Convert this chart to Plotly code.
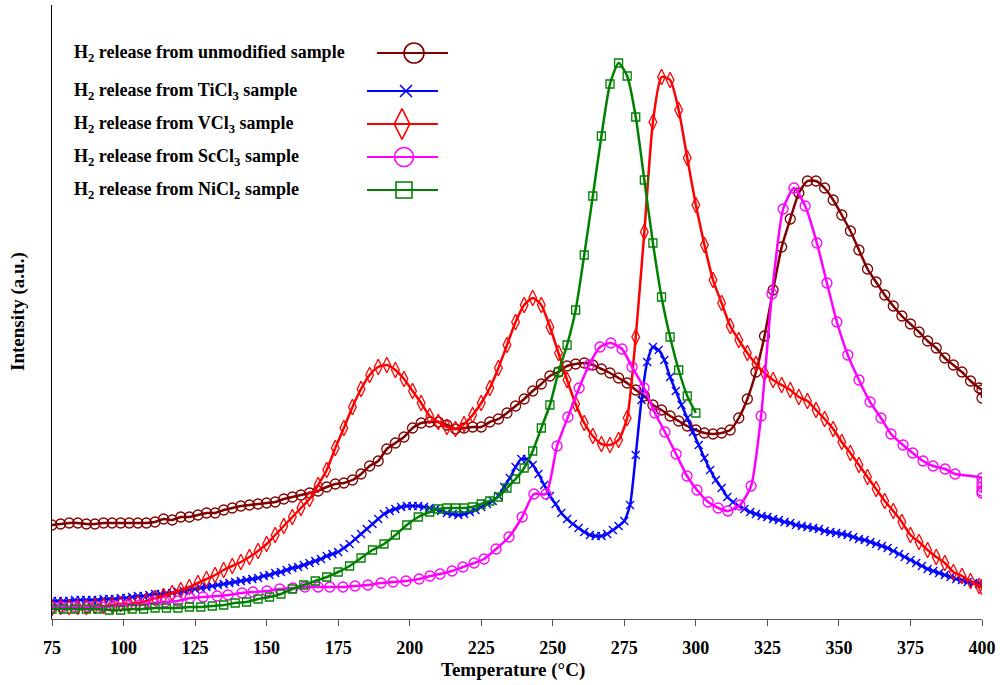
import plotly.graph_objects as go

# ---------------- data ----------------
tick_vals = [75, 100, 125, 150, 175, 200, 225, 250, 275, 300, 325, 350, 375, 400]

unmod_T = [75, 78, 81, 84, 87, 90, 93, 96, 99, 102,
           105, 108, 111, 114, 117, 120, 123, 126, 129, 132,
           135, 138, 141, 144, 147, 150, 153, 156, 159, 162,
           165, 168, 171, 174, 177, 180, 183, 186, 189, 192,
           195, 198, 201, 204, 207, 210, 213, 216, 219, 222,
           225, 228, 231, 234, 237, 240, 243, 246, 249, 252,
           255, 258, 261, 264, 267, 270, 273, 276, 279, 282,
           285, 288, 291, 294, 297, 300, 303, 306, 309, 312,
           315, 318, 321, 324, 327, 330, 333, 336, 339, 342,
           345, 348, 351, 354, 357, 360, 363, 366, 369, 372,
           375, 378, 381, 384, 387, 390, 393, 396, 399, 400, 400]
unmod_I = [94, 95, 96, 96, 95, 95, 96, 96, 96, 96,
           96, 96, 97, 100, 99, 102, 102, 104, 106, 106,
           109, 111, 113, 114, 115, 116, 117, 120, 122, 124,
           126, 128, 132, 135, 136, 139, 145, 153, 158, 170,
           176, 182, 191, 196, 197, 197, 194, 190, 191, 192,
           192, 197, 200, 206, 213, 220, 228, 235, 243, 247,
           253, 255, 256, 254, 250, 246, 241, 236, 229, 223,
           214, 209, 203, 198, 193, 189, 186, 185, 186, 189,
           201, 220, 247, 283, 329, 372, 400, 426, 438, 438,
           431, 419, 404, 388, 369, 350, 337, 324, 313, 303,
           295, 287, 278, 271, 261, 254, 247, 238, 231, 229, 221]

ti_T = [75, 77, 79, 81, 83, 85, 87, 89, 91, 93,
        95, 97, 99, 101, 103, 105, 107, 109, 111, 113,
        115, 117, 119, 121, 123, 125, 127, 129, 131, 133,
        135, 137, 139, 141, 143, 145, 147, 149, 151, 153,
        155, 157, 159, 161, 163, 165, 167, 169, 171, 173,
        175, 177, 179, 181, 183, 185, 187, 189, 191, 193,
        195, 197, 199, 201, 203, 205, 207, 209, 211, 213,
        215, 217, 219, 221, 223, 225, 227, 229, 231, 233,
        235, 237, 239, 241, 243, 245, 247, 249, 251, 253,
        255, 257, 259, 261, 263, 265, 267, 269, 271, 273,
        275, 277, 279, 281, 283, 285, 287, 289, 291, 293,
        295, 297, 299, 301, 303, 305, 307, 309, 311, 313,
        315, 317, 319, 321, 323, 325, 327, 329, 331, 333,
        335, 337, 339, 341, 343, 345, 347, 349, 351, 353,
        355, 357, 359, 361, 363, 365, 367, 369, 371, 373,
        375, 377, 379, 381, 383, 385, 387, 389, 391, 393,
        395, 397, 399, 400]
ti_I = [18, 18, 18, 18, 19, 19, 19, 19, 19, 20,
        20, 20, 21, 21, 22, 23, 23, 24, 25, 25,
        26, 26, 27, 28, 29, 30, 31, 32, 33, 34,
        35, 36, 37, 38, 39, 40, 41, 43, 44, 46,
        47, 49, 51, 52, 54, 56, 58, 60, 63, 65,
        67, 71, 75, 80, 85, 90, 95, 100, 105, 108,
        110, 112, 113, 113, 113, 112, 111, 110, 108, 106,
        105, 104, 105, 107, 109, 112, 115, 118, 123, 132,
        141, 152, 160, 160, 154, 145, 134, 123, 115, 106,
        100, 95, 91, 87, 84, 83, 83, 85, 89, 93,
        98, 114, 164, 219, 257, 272, 269, 259, 242, 228,
        214, 201, 187, 174, 161, 149, 139, 131, 122, 117,
        113, 110, 107, 105, 103, 102, 100, 99, 97, 96,
        94, 93, 92, 91, 90, 88, 87, 86, 85, 84,
        82, 80, 79, 77, 75, 73, 71, 68, 65, 62,
        59, 56, 53, 50, 48, 46, 44, 42, 40, 39,
        37, 36, 35, 34]

v_T = [75, 78, 81, 84, 87, 90, 93, 96, 99, 102,
       105, 108, 111, 114, 117, 120, 123, 126, 129, 132,
       135, 138, 141, 144, 147, 150, 153, 156, 159, 162,
       165, 168, 171, 174, 177, 180, 183, 186, 189, 192,
       195, 198, 201, 204, 207, 210, 213, 216, 219, 222,
       225, 228, 231, 234, 237, 240, 243, 246, 249, 252,
       255, 258, 261, 264, 267, 270, 273, 276, 279, 282,
       285, 288, 291, 294, 297, 300, 303, 306, 309, 312,
       315, 318, 321, 324, 327, 330, 333, 336, 339, 342,
       345, 348, 351, 354, 357, 360, 363, 366, 369, 372,
       375, 378, 381, 384, 387, 390, 393, 396, 399, 400]
v_I = [11, 12, 12, 12, 12, 13, 13, 14, 15, 15,
       16, 18, 21, 23, 26, 29, 32, 36, 40, 44,
       49, 53, 57, 62, 68, 75, 84, 93, 102, 111,
       120, 134, 149, 171, 191, 212, 230, 244, 252, 254,
       249, 240, 228, 216, 203, 197, 192, 190, 195, 204,
       216, 231, 251, 274, 297, 314, 321, 314, 292, 266,
       239, 215, 196, 183, 175, 174, 179, 201, 282, 387,
       497, 542, 539, 509, 461, 414, 374, 339, 316, 293,
       279, 266, 255, 246, 239, 234, 229, 222, 218, 209,
       200, 190, 177, 166, 154, 142, 130, 118, 108, 97,
       84, 77, 69, 62, 56, 47, 43, 38, 33, 32]

sc_T = [75.0, 78.5, 83.0, 87.6, 92.5, 97.0, 101.2, 105.8, 110.3, 114.5,
        119.0, 123.2, 127.8, 132.7, 136.5, 141.4, 145.2, 150.1, 154.6, 159.2,
        163.4, 168.0, 172.1, 176.7, 180.9, 185.4, 190.0, 194.2, 198.7, 203.3,
        207.1, 210.6, 214.8, 218.6, 222.5, 226.0, 230.2, 234.7, 239.3, 243.4,
        247.6, 251.5, 255.3, 259.2, 262.7, 266.5, 270.3, 274.2, 277.7, 281.9,
        285.7, 289.2, 293.1, 296.9, 300.4, 304.3, 307.8, 311.2, 315.4, 319.3,
        322.8, 326.6, 330.5, 334.3, 338.2, 342.3, 345.8, 349.3, 353.1, 357.0,
        360.9, 364.7, 368.2, 372.4, 375.8, 379.4, 382.9, 387.1, 390.6, 400,
        400, 400, 400, 400]
sc_I = [12, 12, 12, 12, 12, 13, 14, 14, 16, 17,
        18, 21, 22, 23, 24, 26, 27, 28, 30, 31,
        32, 32, 32, 32, 33, 34, 36, 37, 38, 40,
        43, 45, 48, 52, 56, 60, 70, 82, 102, 125,
        125, 173, 202, 231, 254, 272, 276, 270, 252, 231,
        206, 187, 165, 143, 129, 117, 111, 108, 114, 133,
        203, 325, 410, 431, 413, 376, 336, 297, 264, 239,
        217, 201, 185, 174, 166, 158, 153, 150, 145, 141,
        136, 132, 128, 126]

ni_T = [75, 79, 83, 87, 91, 95, 99, 103, 107, 111,
        115, 119, 123, 127, 131, 135, 139, 143, 147, 151,
        155, 159, 163, 167, 171, 175, 179, 183, 187, 191,
        195, 199, 203, 207,
        210, 213, 216, 219, 222, 225, 228, 231, 234, 237,
        240, 243, 246, 249, 252, 255, 258, 261, 264, 267,
        270, 273, 276, 279, 282, 285, 288, 291, 294, 297,
        300]
ni_I = [10, 10, 10, 10, 10, 9, 9, 10, 10, 11,
        11, 11, 12, 12, 13, 14, 16, 17, 20, 22,
        25, 30, 34, 38, 42, 47, 53, 61, 69, 75,
        84, 94, 102, 107,
        110, 111, 111, 111, 112, 115, 118, 122, 131, 140,
        151, 168, 191, 214, 247, 274, 309, 364, 423, 483,
        535, 556, 543, 502, 439, 376, 322, 282, 249, 223,
        206]

series_names = [
    "H<sub>2</sub> release from unmodified sample",
    "H<sub>2</sub> release from TiCl<sub>3</sub> sample",
    "H<sub>2</sub> release from VCl<sub>3</sub> sample",
    "H<sub>2</sub> release from ScCl<sub>3</sub> sample",
    "H<sub>2</sub> release from NiCl<sub>2</sub> sample",
]

# ---------------- styling ----------------
FONT = "Liberation Serif, Times New Roman, serif"
colors = ["#800000", "#0000FF", "#FF0000", "#FF00FF", "#008000"]
symbols = ["circle-open", "x-thin-open", "diamond-tall-open", "circle-open", "square-open"]
sizes = [10, 8, 11, 10, 8]
data = [(unmod_T, unmod_I), (ti_T, ti_I), (v_T, v_I), (sc_T, sc_I), (ni_T, ni_I)]

fig = go.Figure()
for (T, I), c, s, sz, nm in zip(data, colors, symbols, sizes, series_names):
    fig.add_trace(go.Scatter(
        x=T, y=I, mode="lines+markers", name=nm, showlegend=False,
        line=dict(color=c, width=2.5, shape="spline", smoothing=0.6),
        marker=dict(symbol=s, size=sz, color=c, line=dict(color=c, width=1.3)),
    ))

# custom legend (text on the left, key on the right), placed in pixel-like overlay axes
leg_rows = [53, 91, 124, 157, 190]
leg_line = [(377, 448, 414), (367, 438, 406), (367, 438, 402), (367, 438, 404), (367, 438, 404)]
leg_sizes = [20, 12, 22, 19, 16]
for i in range(5):
    x0, x1, xm = leg_line[i]
    yy = leg_rows[i]
    fig.add_trace(go.Scatter(
        x=[x0, x1], y=[yy, yy], mode="lines", xaxis="x2", yaxis="y2",
        line=dict(color=colors[i], width=2), showlegend=False, hoverinfo="skip"))
    fig.add_trace(go.Scatter(
        x=[xm], y=[yy], mode="markers", xaxis="x2", yaxis="y2",
        marker=dict(symbol=symbols[i], size=leg_sizes[i], color=colors[i],
                    line=dict(color=colors[i], width=1.6)),
        showlegend=False, hoverinfo="skip"))
    fig.add_annotation(x=72, y=yy, xref="x2", yref="y2", text=series_names[i],
                       showarrow=False, xanchor="left", yanchor="middle",
                       font=dict(family=FONT, size=18, color="black", weight="bold"))

fig.add_annotation(x=(513 - 52) / 930, y=0, xref="paper", yref="paper", yshift=-51,
                   text="Temperature (°C)", showarrow=False, xanchor="center", yanchor="middle",
                   font=dict(family=FONT, size=19, color="black", weight="bold"))
fig.add_annotation(x=0, y=0.5, xref="paper", yref="paper", xshift=-34,
                   text="Intensity (a.u.)", textangle=-90, showarrow=False,
                   xanchor="center", yanchor="middle",
                   font=dict(family=FONT, size=19, color="black", weight="bold"))

fig.update_layout(
    width=1000, height=685,
    margin=dict(l=52, r=18, t=5, b=66),
    paper_bgcolor="white", plot_bgcolor="white",
    showlegend=False,
    xaxis=dict(range=[75, 400], tickvals=tick_vals, ticks="outside", ticklen=6,
               tickcolor="#555", tickwidth=1, showline=True, linecolor="#555", linewidth=1,
               showgrid=False, zeroline=False, ticklabelstandoff=6,
               tickfont=dict(family=FONT, size=18, color="black", weight="bold")),
    yaxis=dict(range=[0, 614], showticklabels=False, ticks="", showline=True,
               linecolor="black", linewidth=1, showgrid=False, zeroline=False),
    xaxis2=dict(overlaying="x", range=[52, 982], visible=False),
    yaxis2=dict(overlaying="y", range=[619, 5], visible=False),
)

fig.write_html("out.html")
